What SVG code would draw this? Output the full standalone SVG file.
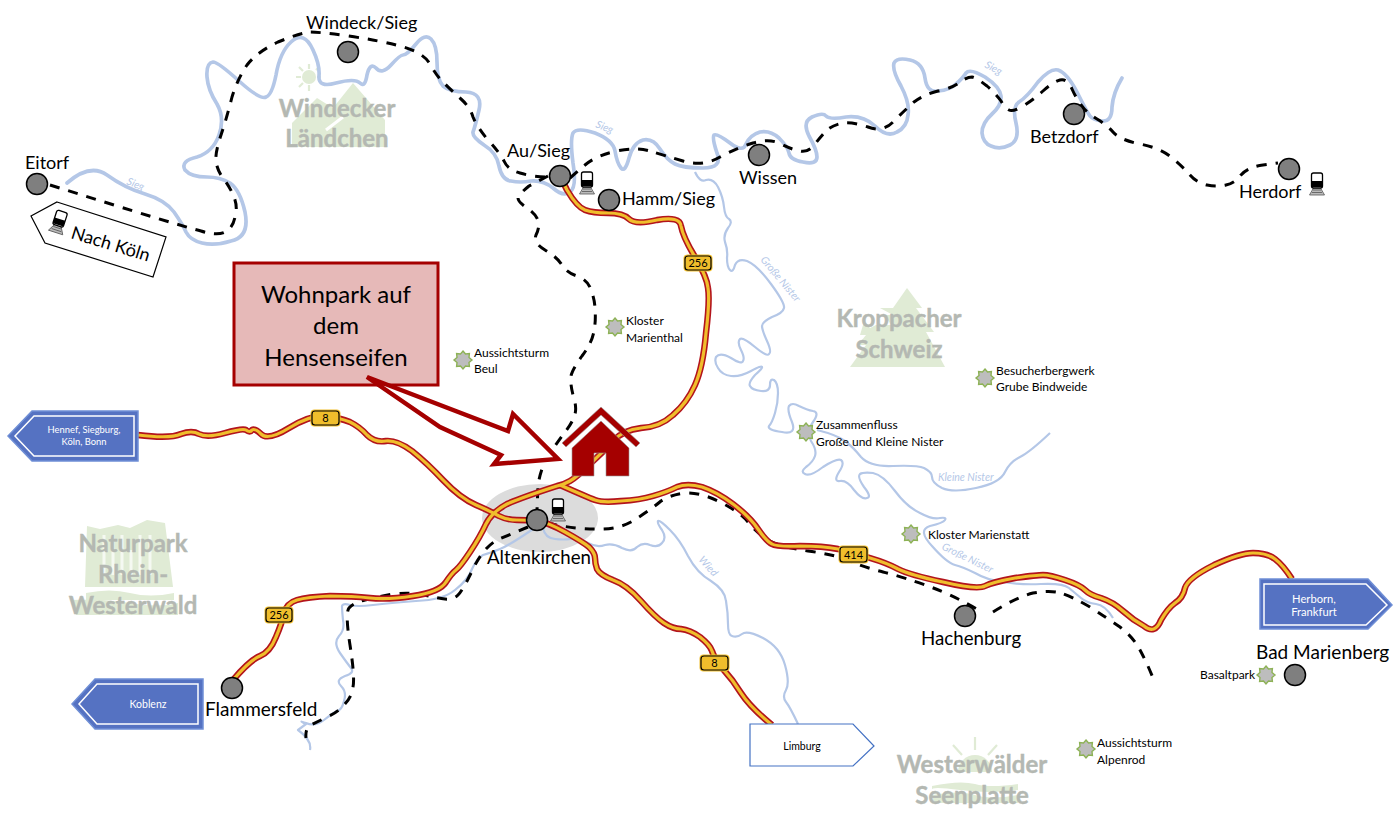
<svg xmlns="http://www.w3.org/2000/svg" xmlns:xlink="http://www.w3.org/1999/xlink" width="1400" height="815" viewBox="0 0 1400 815">
<style>
text{font-family:Lato,"Liberation Sans",sans-serif;fill:#000}
.city{font-size:18px}
.cityb{font-size:19px}
.poi{font-size:12px}
.region{font-size:24px;font-weight:700;fill:#b4b8b2;stroke:#b4b8b2;stroke-width:.4;text-anchor:middle}
.rl{font-size:10.5px;font-style:italic;fill:#b4c7e7}
.sieg{fill:none;stroke:#b4c7e7;stroke-width:3.7;stroke-linejoin:round;stroke-linecap:round}
.riv{fill:none;stroke:#b4c7e7;stroke-width:2.2;stroke-linejoin:round}
.rail{fill:none;stroke:#000;stroke-width:3;stroke-dasharray:10 9}
.ro{fill:none;stroke:#b3141c;stroke-width:6.4;stroke-linejoin:round}
.ri{fill:none;stroke:#f0be2c;stroke-width:3.2;stroke-linejoin:round}
.dot{fill:#7f7f7f;stroke:#000;stroke-width:1.5}
.star{fill:#bdbdbd;stroke:#8db255;stroke-width:1.4}
.sign{fill:#5572c2;stroke:#6f8fd6;stroke-width:1.5}
.signi{fill:none;stroke:#fff;stroke-width:1.5}
.st{fill:#fff;font-size:9.4px;text-anchor:middle}
.shield{fill:#f0be2c;stroke:#000;stroke-width:1.2}
.halo{fill:#f0be2c}
.sn{font-size:11px;text-anchor:middle}
.g{fill:#e0ebd5}
.gl{stroke:#e0ebd5;stroke-width:2.2;fill:none}
</style>
<defs>
<polygon id="star" class="star" points="0,-9 2.5,-6 6.4,-6.4 6,-2.5 9,0 6,2.5 6.4,6.4 2.5,6 0,9 -2.5,6 -6.4,6.4 -6,2.5 -9,0 -6,-2.5 -6.4,-6.4 -2.5,-6"/>
<g id="train">
<path d="M-3 3L3 3L7.5 11L-7.5 11Z" fill="#bbb" stroke="#555" stroke-width=".8"/>
<path d="M-4 6H4M-5 8.5H5" stroke="#555" stroke-width=".8"/>
<rect x="-5.5" y="-11" width="11" height="15" rx="2" fill="#fff" stroke="#000" stroke-width="1.3"/>
<rect x="-5.5" y="-3" width="11" height="6" fill="#000"/>
</g>
<path id="r8w" d="M138 435Q170 439 181 434Q192 430 199 434Q207 438 225 433Q243 428 246 430Q250 433 252 430Q255 428 261 434Q268 441 289 428Q310 415 325 416Q340 418 350 422Q360 427 367 435Q375 443 386 441Q397 440 412 451Q427 463 443 480Q460 498 476 505Q492 512 499 516Q507 520 517 520Q527 520 537 521Q547 522 565 532Q583 542 589 547Q595 553 595 558Q595 563 597 569Q600 575 613 580Q627 585 641 601Q655 617 664 623Q673 629 681 629Q690 630 700 637Q710 645 712 651Q714 658 723 669Q733 680 741 693Q750 707 772 725"/>
<path id="r256" d="M562 180L567 190Q577 207 585 210Q593 213 608 213Q623 213 629 219Q635 225 657 220Q680 216 681 226Q683 237 695 257Q707 277 708 288Q710 300 706 333Q703 367 695 385Q687 403 673 415Q660 427 641 428Q623 430 613 441Q603 452 590 464Q577 477 570 481Q563 485 557 486Q523 497 507 504Q492 512 486 524Q480 537 470 552Q460 567 456 570Q452 573 446 582Q440 592 413 596Q387 600 370 598Q353 596 330 596Q307 597 297 600Q287 603 284 613Q282 623 276 637Q270 652 260 656Q250 660 233 680"/>
<path id="r414" d="M560 485Q587 497 595 500Q603 503 621 501Q640 500 653 496Q667 492 677 487Q687 483 702 487Q717 492 733 504Q750 517 758 529Q767 542 772 544Q777 547 800 546Q823 546 838 549Q853 553 870 558Q887 563 898 569Q910 575 943 582Q977 590 985 586Q993 582 1015 578Q1037 575 1043 575Q1050 575 1065 580Q1080 585 1085 590Q1090 595 1101 598Q1113 602 1123 611Q1133 620 1144 626Q1155 635 1161 620Q1168 608 1175 603Q1183 598 1185 588Q1188 578 1214 565Q1240 553 1253 553Q1267 553 1275 559Q1283 565 1292 579"/>
</defs>

<g id="landscape-icons">
<g id="icon-windecker">
<circle class="g" cx="309" cy="77" r="7"/>
<path class="gl" d="M309 64V69M309 85V91M296 77H301M317 77H321M299 67L303 71M299 87L303 83M319 67L316 70"/>
<path class="g" d="M292 123L317 98L333 108L353 83L385 120V147H292Z"/>
<path d="M326 130L343 117" stroke="#fff" stroke-width="3"/>
</g>
<g id="icon-kroppacher">
<path class="g" d="M907 288L922 308H916L934 332H926L945 367H850L866 345H858L866 335H860L863 325L865 322L870 328L876 325L891 325L885 315H893L880 308H893Z"/>
</g>
<g id="icon-naturpark">
<path class="g" d="M87 526L100 529L118 525L130 528L147 520L165 523L173 587H85Z"/>
<path d="M104 535V575M113 535V575M122 535V575M131 550V575M140 535V575M150 535V575" stroke="#fff" stroke-width="3" opacity=".7"/>
<path class="g" d="M86 593Q110 588 130 593T174 593V600H86ZM72 600Q100 598 130 603T178 603V615H76Z"/>
</g>
<g id="icon-westerwaelder">
<path class="g" d="M958 772A17 17 0 0 1 992 772Z"/>
<path class="gl" d="M975 737V750M953 745L962 755M997 745L988 755"/>
<path class="g" d="M932 786Q960 780 975 784T1018 784V790Q990 794 960 790T932 790ZM932 795Q960 790 975 795T1018 795V803H934Z"/>
</g>
</g>

<ellipse id="altenkirchen-area" cx="540" cy="518" rx="58" ry="34" fill="#dcdcdc"/>

<g id="connectors">
<g id="rivers">
<path id="sieg" class="sieg" d="M67 183Q90 163 107 175Q125 188 145 194Q165 200 174 212Q183 225 186 232Q190 240 202 243Q215 246 231 241Q250 237 245 212Q240 190 230 183Q220 177 207 177Q191 177 185 170Q180 161 197 157Q213 152 219 135Q225 118 217 104Q208 90 207 77Q206 63 213 62Q218 62 239 81Q260 100 266 97Q272 95 276 75Q280 52 291 42Q304 30 313 50Q320 65 319 76Q318 88 336 83Q355 78 360 83Q365 88 367 75Q370 62 376 68Q382 75 391 65Q400 55 403 55Q407 55 416 44Q425 33 431 39Q437 45 437 62Q437 80 443 86Q450 92 466 92Q483 93 479 110Q475 127 473 132Q472 137 484 145Q497 153 499 166Q502 180 511 181Q520 183 531 181Q543 180 553 188Q563 197 570 192Q577 187 573 163Q570 140 573 133Q577 127 595 133Q613 140 615 151Q617 163 621 168Q625 173 629 158Q633 143 643 140Q653 138 660 149Q667 160 675 164Q683 168 703 168Q723 168 717 153Q712 138 714 135Q717 133 730 143Q743 153 746 144Q750 135 760 132Q770 130 779 138Q788 147 789 153Q790 160 803 162Q817 165 817 157Q817 150 809 136Q802 122 812 117Q823 112 826 116Q830 120 846 117Q863 115 875 126Q887 138 897 132Q907 127 908 115Q910 103 901 86Q892 70 894 63Q897 57 910 60Q923 63 925 78Q927 93 938 91Q950 90 956 84Q963 78 966 73Q970 68 985 77Q1000 87 1001 96Q1002 105 992 114Q982 123 982 133Q983 143 991 146Q1000 150 1010 145Q1020 140 1016 123Q1012 107 1019 102Q1027 97 1038 82Q1050 68 1058 70Q1067 73 1077 92Q1087 112 1090 116Q1093 120 1102 121Q1112 122 1112 107Q1113 93 1122 78"/>
<path id="grosse-nister" class="riv" d="M695 172Q700 183 706 180Q713 178 718 187Q723 197 724 207Q725 217 729 219Q733 222 728 228Q723 235 725 242Q728 250 727 258Q727 267 730 270Q733 273 735 265Q738 258 747 261Q757 265 771 284Q785 303 784 308Q783 313 772 317Q762 322 762 326Q762 330 767 341Q772 352 769 354Q767 357 755 347Q743 337 740 339Q737 342 741 350Q745 358 743 361Q742 365 731 358Q720 352 716 357Q714 362 718 368Q722 375 731 376Q740 377 751 371Q762 365 762 367Q763 368 755 375Q748 383 750 386Q752 390 761 391Q770 392 770 385Q770 378 774 380Q778 383 778 393Q778 403 775 413Q772 423 769 426Q767 430 782 432Q797 435 792 422Q787 410 789 406Q792 402 799 406Q807 410 813 411Q820 412 813 422Q806 432 811 441Q817 450 815 456Q813 462 806 467Q800 472 805 474Q810 477 823 467Q837 458 841 460Q845 463 839 472Q833 482 840 481Q847 480 854 490Q862 500 867 498Q872 497 864 487Q857 477 860 474Q863 472 873 473Q883 475 895 491Q907 507 920 513Q933 520 940 518Q947 517 945 520Q943 523 930 526Q917 530 932 546Q947 563 955 565Q963 567 975 573Q987 580 1003 582Q1020 585 1041 584Q1063 583 1069 588Q1075 593 1081 598Q1087 603 1096 604Q1105 605 1113 618"/>
<path id="kleine-nister" class="riv" d="M817 430Q837 435 845 441Q853 447 861 457Q870 467 893 466Q917 465 924 468Q932 472 932 477Q932 483 942 488Q953 493 976 488Q1000 483 1005 472Q1010 462 1020 457Q1030 452 1050 433"/>
<path id="wied-east" class="riv" d="M543 528Q545 538 555 539Q563 540 571 539Q580 538 588 543Q597 548 605 545Q613 543 622 548Q632 553 637 547Q643 542 650 545Q658 548 662 543Q667 538 662 530Q657 523 658 521Q660 520 670 530Q680 540 688 556Q697 573 711 581Q725 590 726 601Q728 613 728 624Q728 635 732 636Q737 638 742 634Q747 630 763 638Q780 647 785 665Q790 683 786 690Q782 697 786 702Q790 707 798 724"/>
<path id="wied-west" class="riv" d="M536 527Q510 545 500 549Q490 553 483 555Q477 558 472 569Q468 580 455 590Q443 600 416 601Q390 603 373 605Q357 607 350 605Q343 603 342 606Q342 610 343 620Q345 630 339 636Q333 643 340 653Q347 663 351 668Q355 673 345 676Q335 680 341 686Q347 692 344 701Q342 710 337 711Q333 713 324 720Q315 727 306 723Q297 720 306 724L298 730Q312 740 310 750"/>
</g>
<g id="rail-lines">
<path class="rail" d="M50 185L117 206Q185 227 201 231Q217 236 225 232Q233 228 235 217Q238 207 234 197Q230 187 223 178Q217 170 216 161Q215 153 221 135Q227 117 232 97Q238 78 247 65Q257 52 278 42Q300 33 310 32Q320 32 348 36Q377 40 400 46Q423 52 430 64Q437 77 445 84Q453 92 461 99Q470 107 473 117Q477 127 488 140Q500 153 504 161Q508 170 520 173Q533 177 550 177"/>
<path class="rail" d="M570 178L585 165Q597 155 617 151Q637 147 650 151Q663 155 683 161Q703 167 720 157Q737 148 753 143Q770 138 781 144Q793 150 800 151Q808 153 815 144Q822 135 827 130Q833 125 843 123Q853 122 868 127Q883 133 894 121Q905 110 914 102Q923 95 938 91Q953 88 960 82Q967 77 972 77Q977 78 987 86Q997 95 1001 101Q1005 108 1009 110Q1013 112 1023 106Q1033 100 1043 91Q1053 82 1060 80Q1067 78 1072 89Q1077 100 1082 106Q1087 113 1097 119Q1107 125 1113 132Q1120 140 1140 144Q1160 148 1171 157Q1183 167 1190 175Q1197 183 1207 185Q1217 187 1226 185Q1235 183 1241 175Q1248 167 1263 165L1278 163"/>
<path class="rail" d="M548 176L529 186Q518 195 518 198Q518 202 527 208Q537 215 538 221Q540 227 536 235Q533 243 545 250Q557 257 562 265Q567 273 577 276Q588 280 591 290Q595 300 595 310Q596 320 594 331Q592 343 582 356Q572 370 571 376Q570 383 573 395Q577 407 575 414Q573 422 565 432Q557 443 548 456Q540 470 538 486L537 510"/>
<path class="rail" d="M547 523Q573 529 596 529Q620 530 636 519Q653 508 661 501Q670 495 685 493Q700 492 720 502Q740 512 748 522Q757 533 768 540Q780 547 808 551Q837 555 850 561Q863 567 883 572Q903 577 928 586Q953 595 982 612"/>
<path class="rail" d="M993 612Q1017 597 1033 593Q1050 590 1061 593Q1073 597 1090 607Q1107 618 1120 627Q1133 637 1140 650Q1147 663 1153 678"/>
<path class="rail" d="M528 527L497 540Q483 548 473 569Q463 590 458 595Q453 600 445 599Q438 598 424 595Q410 592 393 594Q377 597 365 600Q353 603 349 608Q345 613 350 645Q355 677 353 687Q352 697 344 705Q337 713 327 717Q317 722 311 725Q305 728 306 738"/>
</g>
<g id="roads">
<use xlink:href="#r8w" class="ro"/><use xlink:href="#r256" class="ro"/><use xlink:href="#r414" class="ro"/>
<use xlink:href="#r8w" class="ri"/><use xlink:href="#r256" class="ri"/><use xlink:href="#r414" class="ri"/>
</g>
</g>

<g id="river-labels">
<text class="rl" transform="translate(126,184) rotate(22)">Sieg</text>
<text class="rl" transform="translate(595,127) rotate(22)">Sieg</text>
<text class="rl" transform="translate(984,67) rotate(28)">Sieg</text>
<text class="rl" transform="translate(760,260) rotate(50)">Große Nister</text>
<text class="rl" transform="translate(941,549) rotate(26)">Große Nister</text>
<text class="rl" x="938" y="481">Kleine Nister</text>
<text class="rl" transform="translate(698,560) rotate(48)">Wied</text>
</g>

<g id="region-labels">
<text class="region" x="337" y="117">Windecker</text><text class="region" x="337" y="147">Ländchen</text>
<text class="region" x="899" y="327">Kroppacher</text><text class="region" x="899" y="358">Schweiz</text>
<text class="region" x="133" y="552">Naturpark</text><text class="region" x="133" y="583">Rhein-</text><text class="region" x="133" y="614">Westerwald</text>
<text class="region" x="972" y="773">Westerwälder</text><text class="region" x="972" y="804">Seenplatte</text>
</g>

<g id="node-eitorf"><circle class="dot" cx="37" cy="184" r="10.5"/><text class="city" x="25" y="169">Eitorf</text></g>
<g id="node-windeck"><circle class="dot" cx="348" cy="52" r="10.5"/><text class="city" x="306" y="29">Windeck/Sieg</text></g>
<g id="node-au"><circle class="dot" cx="560" cy="176" r="10.5"/><text class="city" x="507" y="157">Au/Sieg</text><use xlink:href="#train" x="587" y="183"/></g>
<g id="node-hamm"><circle class="dot" cx="609" cy="200" r="10.5"/><text class="city" x="622" y="205">Hamm/Sieg</text></g>
<g id="node-wissen"><circle class="dot" cx="759" cy="155" r="10.5"/><text class="city" x="739" y="184">Wissen</text></g>
<g id="node-betzdorf"><circle class="dot" cx="1074" cy="114" r="10.5"/><text class="city" x="1030" y="143">Betzdorf</text></g>
<g id="node-herdorf"><circle class="dot" cx="1289" cy="169" r="10.5"/><text class="city" x="1239" y="198">Herdorf</text><use xlink:href="#train" x="1317" y="184"/></g>
<g id="node-altenkirchen"><circle class="dot" cx="537" cy="520" r="10.5"/><text class="cityb" x="487" y="564" style="font-size:18.7px">Altenkirchen</text><use xlink:href="#train" x="558" y="510"/></g>
<g id="node-flammersfeld"><circle class="dot" cx="232" cy="688" r="10.5"/><text class="cityb" x="205" y="716">Flammersfeld</text></g>
<g id="node-hachenburg"><circle class="dot" cx="965" cy="616" r="10.5"/><text class="cityb" x="921" y="645" style="font-size:18.7px">Hachenburg</text></g>
<g id="node-bad-marienberg"><circle class="dot" cx="1295" cy="675" r="10.5"/><text class="cityb" x="1256" y="659">Bad Marienberg</text></g>

<g id="poi-beul"><use xlink:href="#star" x="463" y="360"/><text class="poi" x="474" y="357">Aussichtsturm</text><text class="poi" x="474" y="373">Beul</text></g>
<g id="poi-marienthal"><use xlink:href="#star" x="615" y="327"/><text class="poi" x="626" y="325">Kloster</text><text class="poi" x="626" y="342">Marienthal</text></g>
<g id="poi-zusammenfluss"><use xlink:href="#star" x="806" y="432"/><text class="poi" x="816" y="429">Zusammenfluss</text><text class="poi" x="816" y="446">Große und Kleine Nister</text></g>
<g id="poi-bindweide"><use xlink:href="#star" x="985" y="378"/><text class="poi" x="996" y="375">Besucherbergwerk</text><text class="poi" x="996" y="391">Grube Bindweide</text></g>
<g id="poi-marienstatt"><use xlink:href="#star" x="911" y="534"/><text class="poi" x="928" y="539">Kloster Marienstatt</text></g>
<g id="poi-basaltpark"><use xlink:href="#star" x="1266" y="675"/><text class="poi" x="1200" y="679">Basaltpark</text></g>
<g id="poi-alpenrod"><use xlink:href="#star" x="1086" y="749"/><text class="poi" x="1097" y="747">Aussichtsturm</text><text class="poi" x="1097" y="764">Alpenrod</text></g>

<g id="shield-8a"><rect class="halo" x="310.500" y="409.500" width="30" height="17" rx="4"/><rect class="shield" x="312" y="411" width="27" height="14" rx="3"/><text class="sn" x="325.500" y="422">8</text></g>
<g id="shield-256a"><rect class="halo" x="683.500" y="254.500" width="29" height="17" rx="4"/><rect class="shield" x="685" y="256" width="26" height="14" rx="3"/><text class="sn" x="698" y="267">256</text></g>
<g id="shield-256b"><rect class="halo" x="264.500" y="606.500" width="29" height="17" rx="4"/><rect class="shield" x="266" y="608" width="26" height="14" rx="3"/><text class="sn" x="279" y="619">256</text></g>
<g id="shield-8b"><rect class="halo" x="699.500" y="654.500" width="30" height="17" rx="4"/><rect class="shield" x="701" y="656" width="27" height="14" rx="3"/><text class="sn" x="714.500" y="667">8</text></g>
<g id="shield-414"><rect class="halo" x="838.500" y="545.500" width="30" height="18" rx="4"/><rect class="shield" x="840" y="547" width="27" height="15" rx="3"/><text class="sn" x="853.500" y="559">414</text></g>

<g id="sign-koeln"><polygon points="57,202 166,237 153,277 45,243 31,216" fill="#fff" stroke="#000" stroke-width="1.2"/><use xlink:href="#train" transform="translate(59,222) rotate(18)"/><text class="city" transform="translate(70,238) rotate(17)">Nach Köln</text></g>
<g id="sign-hennef"><polygon class="sign" points="8,436 32,411 138,411 138,461 32,461"/><polygon class="signi" points="15,436 34,416 134,416 134,456 34,456"/><text class="st" x="84" y="433">Hennef, Siegburg,</text><text class="st" x="84" y="445">Köln, Bonn</text></g>
<g id="sign-koblenz"><polygon class="sign" points="72,704 95,679 203,679 203,729 95,729"/><polygon class="signi" points="79,704 97,684 198,684 198,724 97,724"/><text class="st" style="font-size:10.5px" x="148" y="708">Koblenz</text></g>
<g id="sign-herborn"><polygon class="sign" points="1260,579 1368,579 1392,605 1368,629 1260,629"/><polygon class="signi" points="1264,584 1366,584 1387,605 1366,625 1264,625"/><text class="st" style="font-size:11.2px" x="1314" y="603">Herborn,</text><text class="st" style="font-size:11.2px" x="1314" y="616">Frankfurt</text></g>
<g id="sign-limburg"><polygon points="750,724 853,724 874,746 853,766 750,766" fill="#fff" stroke="#4472c4" stroke-width="1.2"/><text class="st" style="fill:#000;font-size:10.5px" x="802" y="750">Limburg</text></g>

<g id="house">
<path d="M562 443L601 407L640 443L636 447L601 415L566 447Z" fill="#a50000" stroke="#999" stroke-width=".6"/>
<path d="M572 476V448L601 421L629 448V476H606V453H594V476Z" fill="#a50000" stroke="#999" stroke-width=".6"/>
</g>

<g id="callout">
<rect x="234" y="263" width="204" height="122" fill="#e6b9b8" stroke="#a50000" stroke-width="3"/>
<text x="336" y="303" text-anchor="middle" style="font-size:24px">Wohnpark auf</text>
<text x="336" y="334" text-anchor="middle" style="font-size:24px">dem</text>
<text x="336" y="366" text-anchor="middle" style="font-size:24px">Hensenseifen</text>
<polygon points="367,377 508,431 513,414 558,459 494,464 501,455 440,427" fill="#fff" stroke="#a50000" stroke-width="4.500"/>
</g>
</svg>
